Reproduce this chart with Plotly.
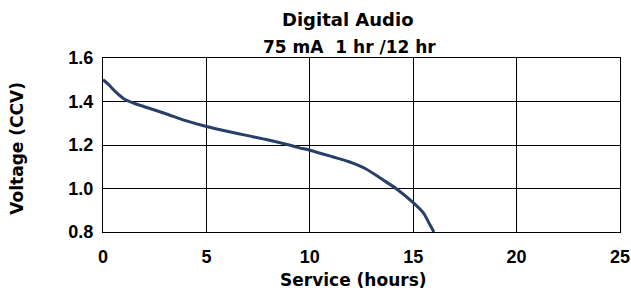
import plotly.graph_objects as go

hours = [0, 0.3, 0.6, 1.0, 1.5, 2, 3, 4, 5, 6, 7, 8, 9, 9.5, 10, 11.1, 11.9, 12.7, 13.5, 14.2, 15.0, 15.5, 15.8, 16.0]
voltage = [1.50, 1.475, 1.445, 1.413, 1.392, 1.376, 1.345, 1.312, 1.285, 1.263, 1.243, 1.223, 1.200, 1.187, 1.176, 1.146, 1.123, 1.091, 1.042, 0.998, 0.935, 0.887, 0.835, 0.80]

x_ticks = [0, 5, 10, 15, 20, 25]
y_ticks = [0.8, 1.0, 1.2, 1.4, 1.6]

title = "Digital Audio"
subtitle = "75 mA\u00a0 1 hr /12 hr"
x_title = "Service (hours)"
y_title = "Voltage (CCV)"

TICKFONT = "Liberation Sans"
TEXTFONT = "DejaVu Sans"

W, H = 631, 291
# plot area in page pixels: x 103..620.5, y 58.3..232.5
l, r, t, b = 103, 10.5, 58.3, 58.5
pw, ph = W - l - r, H - t - b

def px_to_paper(px, py):
    return (px - l) / pw, (H - b - py) / ph

fig = go.Figure()
fig.add_trace(go.Scatter(x=hours, y=voltage, mode="lines",
                         line=dict(color="#283f68", width=3, shape="spline", smoothing=0.8),
                         showlegend=False, hoverinfo="skip"))

axis_common = dict(showgrid=True, gridcolor="black", gridwidth=1, zeroline=False,
                   showline=True, linecolor="black", linewidth=1, mirror=True, ticks="",
                   automargin=False, ticklabeloverflow="allow",
                   tickfont=dict(family=TICKFONT, size=18, color="black", weight="bold"))

ann = []
for text, px, py, size, angle in [
    (title, 348, 20, 18, 0),
    (subtitle, 350, 47, 17, 0),
    (x_title, 354, 281, 17, 0),
    (y_title, 17, 149, 17, -90),
]:
    xp, yp = px_to_paper(px, py)
    ann.append(dict(text="<b>%s</b>" % text, x=xp, y=yp, xref="paper", yref="paper",
                    xanchor="center", yanchor="middle", showarrow=False, textangle=angle,
                    font=dict(family=TEXTFONT, size=size, color="black")))

fig.update_layout(
    width=W, height=H,
    margin=dict(l=l, r=r, t=t, b=b, pad=0),
    paper_bgcolor="white", plot_bgcolor="white",
    xaxis=dict(range=[0, 25], tickvals=x_ticks, ticktext=[str(v) for v in x_ticks],
               ticklabelstandoff=8, **axis_common),
    yaxis=dict(range=[0.8, 1.6], tickvals=y_ticks, ticktext=["%.1f" % v for v in y_ticks],
               ticklabelstandoff=5, **axis_common),
    annotations=ann,
)

fig.write_html("out.html",
               config={"displayModeBar": False},
               post_script="document.body.style.margin='0';document.body.style.overflow='hidden';")
